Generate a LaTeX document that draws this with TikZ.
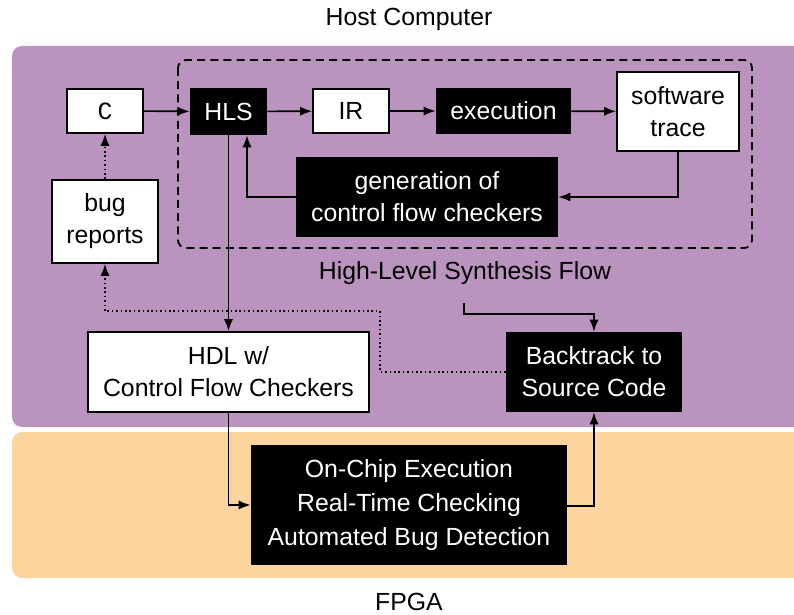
\documentclass[tikz,border=0pt]{standalone}
\usepackage{fontspec}
\setmainfont{Liberation Sans}
\newfontfamily\codefont{Liberation Mono}
\usetikzlibrary{arrows.meta}
\definecolor{hostbg}{RGB}{186,148,190}
\definecolor{fpgabg}{RGB}{252,213,158}
\tikzset{
  every node/.style={font=\fontsize{12.4}{16}\selectfont, align=center, inner sep=0pt},
  whitebox/.style={draw=black, fill=white, line width=0.9pt},
  blackbox/.style={fill=black, text=white},
  flow/.style={line width=0.8pt, -{Latex[length=6pt,width=4.6pt]}},
  dotflow/.style={flow, dash pattern=on 0.8pt off 1.4pt},
  region/.style={rounded corners=5pt},
}
\begin{document}
\begin{tikzpicture}[x=0.5pt, y=-0.5pt]
  \useasboundingbox (0,0) rectangle (794,615);
  \clip (0,0) rectangle (794,615);

  % background regions
  \fill[hostbg, region] (12,46) rectangle (820,427);
  \fill[fpgabg, region] (12,432) rectangle (820,578);
  \node (hostlbl) at (409,19) {Host Computer};
  \node (fpgalbl) at (409,602) {FPGA};

  % high-level synthesis flow frame
  \draw[line width=0.9pt, dash pattern=on 4pt off 2.6pt, rounded corners=4pt]
    (178,60) rectangle (752,248);
  \node (hlsflow) at (465,273) {High-Level Synthesis Flow};

  % nodes
  \node[whitebox, minimum width=38pt, minimum height=22pt] (c) at (105,111) {\codefont C};
  \node[blackbox, minimum width=38.5pt, minimum height=23.5pt] (hls) at (228.5,111.5) {HLS};
  \node[whitebox, minimum width=38pt, minimum height=22pt] (ir) at (351,111) {IR};
  \node[blackbox, minimum width=67.5pt, minimum height=23pt] (exec) at (503.5,111) {execution};
  \node[whitebox, minimum width=61pt, minimum height=39.5pt] (trace) at (678,111.5) {software\\trace};
  \node[blackbox, minimum width=131pt, minimum height=40pt] (gen) at (427,197) {generation of\\control flow checkers};
  \node[whitebox, minimum width=53pt, minimum height=41.5pt] (bugs) at (105,221.5) {bug\\reports};
  \node[whitebox, minimum width=140.5pt, minimum height=40pt] (hdl) at (228.5,372) {HDL w/\\Control Flow Checkers};
  \node[blackbox, minimum width=88pt, minimum height=40pt] (back) at (594,372) {Backtrack to\\Source Code};
  \node[blackbox, minimum width=158pt, minimum height=60pt,
        font=\fontsize{12.4}{16.8}\selectfont] (chip) at (409,505)
        {On-Chip Execution\\Real-Time Checking\\Automated Bug Detection};

  % connector waypoints
  \coordinate (flowout) at (464,303);

  % connectors
  \draw[flow] (c) -- (hls);
  \draw[flow] (hls) -- (ir);
  \draw[flow] (ir) -- (exec);
  \draw[flow] (exec) -- (trace);
  \draw[flow] (trace.south) |- (gen.east);
  \draw[flow] (gen.west) -| (hls.south -| 247,0);
  \draw[flow] (hls.south) -- (hdl.north);
  \draw[dotflow] (bugs.north) -- (c.south);
  \draw[dotflow] (back.west) -- (380,372) -- (380,311) -- (105,311) -- (bugs.south);
  \draw[flow] (hdl.south) |- (chip.west);
  \draw[flow] (chip.east |- 0,506) -| (back.south);
  \draw[flow] (flowout) -- (464,314) -| (back.north);
\end{tikzpicture}
\end{document}
